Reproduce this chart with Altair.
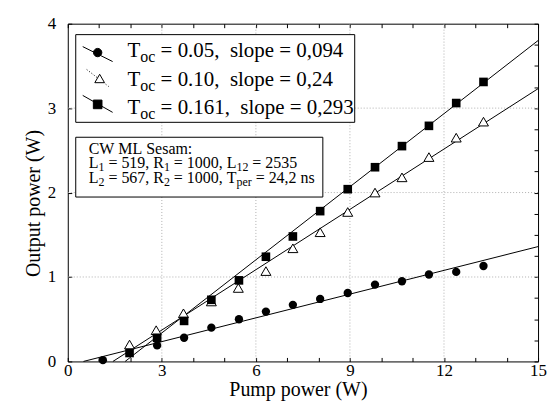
import altair as alt
import pandas as pd

# ---------------- data ----------------
circ_x = [1.12, 2.85, 3.71, 4.58, 5.46, 6.32, 7.18, 8.05, 8.93, 9.80, 10.66, 11.52, 12.39, 13.26]
circ_y = [0.015, 0.19, 0.28, 0.40, 0.50, 0.59, 0.67, 0.74, 0.81, 0.91, 0.95, 1.03, 1.06, 1.13]

tri_x = [1.97, 2.82, 3.69, 4.58, 5.44, 6.32, 7.18, 8.05, 8.93, 9.80, 10.66, 11.52, 12.39, 13.26]
tri_y = [0.20, 0.37, 0.57, 0.71, 0.87, 1.07, 1.34, 1.53, 1.77, 2.00, 2.18, 2.42, 2.65, 2.84]

sq_x = [1.97, 2.85, 3.71, 4.58, 5.46, 6.32, 7.18, 8.05, 8.93, 9.80, 10.66, 11.52, 12.39, 13.26]
sq_y = [0.10, 0.28, 0.48, 0.73, 0.96, 1.24, 1.48, 1.78, 2.04, 2.30, 2.55, 2.79, 3.06, 3.31]

# fitted straight lines (end points)
fit_series = ["0.05", "0.05", "0.10", "0.10", "0.161", "0.161"]
fit_x = [0.5, 15.0, 1.44, 15.0, 1.83, 15.0]
fit_y = [0.0, 1.36, 0.0, 3.23, 0.0, 3.80]

x_ticks = list(range(0, 16))
y_ticks = [i * 0.25 for i in range(17)]
grid_x = [3, 6, 9, 12]
grid_y = [1, 2, 3]

legend_rows = [
    [("T", False), ("oc", True), (" = 0.05,  slope = 0,094", False)],
    [("T", False), ("oc", True), (" = 0.10,  slope = 0,24", False)],
    [("T", False), ("oc", True), (" = 0.161,  slope = 0,293", False)],
]
info_rows = [
    [("CW ML Sesam:", False)],
    [("L", False), ("1", True), (" = 519, R", False), ("1", True), (" = 1000, L", False), ("12", True), (" = 2535", False)],
    [("L", False), ("2", True), (" = 567, R", False), ("2", True), (" = 1000, T", False), ("per", True), (" = 24,2 ns", False)],
]

# ---------------- layout ----------------
FONT = "Liberation Serif"
W, H = 472, 339
PAD_L, PAD_T = 60, 15
X0, Y0 = 8 + PAD_L, 8 + PAD_T
NBSP = "\u00a0"


def vx(px):
    return px - X0


def vy(py):
    return py - Y0


# Times / Liberation Serif advance widths (per 1000 em)
CW = {" ": 250, "=": 564, ".": 250, ",": 250, ":": 278, "C": 667, "L": 611, "M": 889,
      "R": 667, "S": 556, "T": 611, "W": 944, "a": 444, "c": 444, "e": 444, "l": 278,
      "m": 778, "n": 500, "o": 500, "p": 500, "r": 333, "s": 389}


def text_w(s, size):
    return sum(CW.get(ch, 500) for ch in s) * size / 1000.0


one = pd.DataFrame({"k": [0]})


def text_layers(rows, x0, baselines, size, sub_size, sub_dy):
    layers = []
    for row, base in zip(rows, baselines):
        x = x0
        for txt, sub in row:
            fs = sub_size if sub else size
            body = txt.lstrip(" ")
            lead = txt[: len(txt) - len(body)]
            x += text_w(lead, fs)
            layers.append(
                alt.Chart(one).mark_text(text=body.replace(" ", NBSP), font=FONT, fontSize=fs,
                                         align="left", baseline="alphabetic", color="black")
                .encode(x=alt.value(vx(x)), y=alt.value(vy(base + (sub_dy if sub else 0))))
            )
            x += text_w(body, fs)
    return layers


xscale = alt.Scale(domain=[0, 15], nice=False, zero=False)
yscale = alt.Scale(domain=[0, 4], nice=False, zero=False)

common = dict(domain=False, grid=False, tickColor="black", tickWidth=1, tickSize=4, offset=-4,
              labelFont=FONT, labelColor="black", titleFont=FONT, titleColor="black",
              titleFontWeight="normal", labelOverlap=False)

x_bottom = alt.Axis(orient="bottom", values=x_ticks, format="d",
                    labelExpr="datum.value % 3 == 0 ? datum.label : ''",
                    labelFontSize=17, labelPadding=1, labelFlush=False,
                    title="Pump power (W)", titleFontSize=20, titlePadding=1, titleX=231,
                    **common)
x_top = alt.Axis(orient="top", values=x_ticks, labels=False, title="", **common)
y_left = alt.Axis(orient="left", values=y_ticks, format="d",
                  labelExpr="datum.value % 1 == 0 ? datum.label : ''",
                  labelFontSize=17, labelPadding=12, labelFlush=False,
                  title="Output power (W)", titleFontSize=20, titlePadding=4, titleY=180,
                  **common)
y_right = alt.Axis(orient="right", values=y_ticks, labels=False, title="", **common)

# ---------------- layers ----------------
gx = alt.Chart(pd.DataFrame({"g": grid_x})).mark_rule(color="#b0b0b0", strokeDash=[1, 2], strokeWidth=1).encode(
    x=alt.X("g:Q", scale=xscale, axis=None), y=alt.value(0), y2=alt.value(H))
gy = alt.Chart(pd.DataFrame({"g": grid_y})).mark_rule(color="#b0b0b0", strokeDash=[1, 2], strokeWidth=1).encode(
    y=alt.Y("g:Q", scale=yscale, axis=None), x=alt.value(0), x2=alt.value(W))

fit_df = pd.DataFrame({"s": fit_series, "x": fit_x, "y": fit_y})
lines = alt.Chart(fit_df).mark_line(color="black", strokeWidth=1).encode(
    x=alt.X("x:Q", scale=xscale, axis=x_bottom),
    y=alt.Y("y:Q", scale=yscale, axis=y_left),
    detail="s:N")

circles = alt.Chart(pd.DataFrame({"x": circ_x, "y": circ_y})).mark_point(
    shape="circle", filled=True, color="black", size=70, opacity=1).encode(
    x=alt.X("x:Q", scale=xscale, axis=x_top),
    y=alt.Y("y:Q", scale=yscale, axis=y_right))

tris = alt.Chart(pd.DataFrame({"x": tri_x, "y": tri_y})).mark_point(
    shape="triangle-up", filled=True, fill="white", stroke="black", strokeWidth=1, size=100, opacity=1).encode(
    x=alt.X("x:Q", scale=xscale, axis=None),
    y=alt.Y("y:Q", scale=yscale, axis=None))

squares = alt.Chart(pd.DataFrame({"x": sq_x, "y": sq_y})).mark_point(
    shape="square", filled=True, color="black", size=75, opacity=1).encode(
    x=alt.X("x:Q", scale=xscale, axis=None),
    y=alt.Y("y:Q", scale=yscale, axis=None))


def box(x1, y1, x2, y2):
    return alt.Chart(one).mark_rect(fill="white", stroke="black", strokeWidth=1).encode(
        x=alt.value(vx(x1)), x2=alt.value(vx(x2)), y=alt.value(vy(y1)), y2=alt.value(vy(y2)))


def seg(x1, y1, x2, y2, dash=None):
    kw = dict(color="black", strokeWidth=1)
    if dash:
        kw["strokeDash"] = dash
    return alt.Chart(one).mark_rule(**kw).encode(
        x=alt.value(vx(x1)), x2=alt.value(vx(x2)), y=alt.value(vy(y1)), y2=alt.value(vy(y2)))


def sym(x, y, shape, fill, size):
    return alt.Chart(one).mark_point(shape=shape, filled=True, fill=fill, stroke="black",
                                     strokeWidth=1, size=size, opacity=1).encode(
        x=alt.value(vx(x)), y=alt.value(vy(y)))


legend = [
    box(76, 34, 356, 122),
    seg(83, 46, 113, 61), sym(98, 52, "circle", "black", 70),
    seg(87, 69, 109, 86, dash=[1, 2]), sym(100, 78, "triangle-up", "white", 95),
    seg(83, 95, 113, 112), sym(98, 104, "square", "black", 75),
    box(76, 137, 324, 197),
]
legend += text_layers(legend_rows, 128, [56.7, 85.2, 113.8], 21, 16, 5)
legend += text_layers(info_rows, 89, [153.5, 168.3, 183.0], 16, 12, 3)

chart = alt.layer(gx, gy, lines, circles, tris, squares, *legend).resolve_axis(
    x="independent", y="independent"
).properties(
    width=W, height=H,
    autosize=alt.AutoSizeParams(type="none"),
    padding={"left": PAD_L, "top": PAD_T, "right": 10, "bottom": 45},
    background="white",
).configure_view(stroke="black", strokeWidth=1)

chart.save("out.html", embed_options={"renderer": "svg", "actions": False})
